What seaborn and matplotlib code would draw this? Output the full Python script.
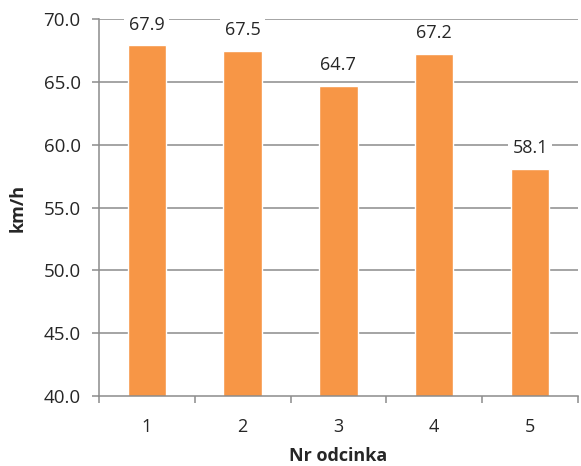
import matplotlib
matplotlib.use("Agg")
import matplotlib.pyplot as plt
import seaborn as sns
import pandas as pd

segments = ["1", "2", "3", "4", "5"]
speeds = [67.9, 67.5, 64.7, 67.2, 58.1]
y_ticks = [40.0, 45.0, 50.0, 55.0, 60.0, 65.0, 70.0]

sns.set_theme(style="white")
plt.rcParams["font.family"] = ["Open Sans", "DejaVu Sans"]

df = pd.DataFrame({"segment": segments, "speed": speeds})

fig = plt.figure(figsize=(5.81, 4.66), dpi=100)
ax = fig.add_axes([0.170, 0.150, 0.825, 0.809])

grid_color = "#8c8c8c"
text_color = "#262626"
ax.set_ylim(40, 70)
ax.set_yticks(y_ticks)
ax.set_yticklabels([f"{t:.1f}" for t in y_ticks])
for t in y_ticks[1:]:
    ax.axhline(t, color=grid_color, lw=1.1, zorder=0)

sns.barplot(data=df, x="segment", y="speed", color="#F79646", saturation=1,
            width=0.4, ax=ax, zorder=2)
ax.set_xlim(-0.5, 4.5)

for i, v in enumerate(speeds):
    ax.annotate(f"{v:.1f}", xy=(i, v), xytext=(0, 15), textcoords="offset points",
                ha="center", va="center", fontsize=13, color=text_color,
                bbox=dict(boxstyle="square,pad=0.25", fc="white", ec="none"), zorder=3)

for side in ["top", "right"]:
    ax.spines[side].set_visible(False)
for side in ["left", "bottom"]:
    ax.spines[side].set_color(grid_color)
    ax.spines[side].set_linewidth(1.1)

ax.tick_params(axis="y", which="major", left=True, length=5, width=1.1,
               color=grid_color, labelsize=13.5, labelcolor=text_color, pad=8)
ax.tick_params(axis="x", which="major", bottom=False, labelsize=13,
               labelcolor=text_color, pad=10)
ax.set_xticks([-0.5, 0.5, 1.5, 2.5, 3.5, 4.5], minor=True)
ax.tick_params(axis="x", which="minor", bottom=True, length=5, width=1.1,
               color=grid_color, direction="out")

ax.set_xlabel("Nr odcinka", fontsize=13, fontweight="bold", color=text_color, labelpad=8)
ax.set_ylabel("km/h", fontsize=13, fontweight="bold", color=text_color, labelpad=12)

fig.savefig("out.png", dpi=100, facecolor="white")
